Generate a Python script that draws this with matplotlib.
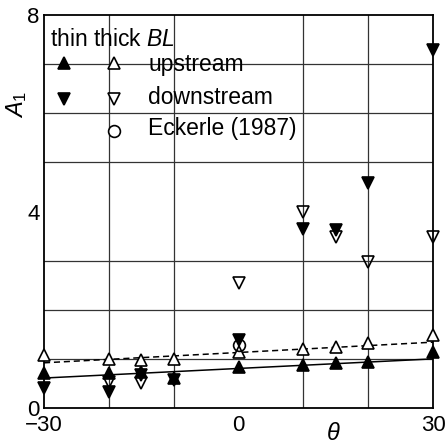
import matplotlib
matplotlib.use("Agg")
import matplotlib.pyplot as plt
import numpy as np

plt.rcParams['font.family'] = ['Liberation Sans', 'DejaVu Sans']
plt.rcParams['mathtext.fontset'] = 'custom'
plt.rcParams['mathtext.it'] = 'Liberation Sans:italic'
plt.rcParams['mathtext.rm'] = 'Liberation Sans'

# Angle of attack (deg) and first harmonic amplitude A1
theta_up_thin = [-30, -20, -15, -10, 0, 10, 15, 20, 30]
a1_up_thin = [0.71, 0.71, 0.73, 0.62, 0.84, 0.88, 0.92, 0.94, 1.14]

theta_up_thick = [-30, -20, -15, -10, 0, 10, 15, 20, 30]
a1_up_thick = [1.08, 1.00, 0.98, 1.00, 1.14, 1.20, 1.24, 1.32, 1.49]

theta_dn_thin = [-30, -20, -15, -10, 0, 10, 15, 20, 30]
a1_dn_thin = [0.41, 0.33, 0.67, 0.57, 1.38, 3.65, 3.62, 4.58, 7.29]

theta_dn_thick = [-20, -15, 0, 10, 15, 20, 30]
a1_dn_thick = [0.53, 0.51, 2.54, 3.99, 3.48, 2.97, 3.48]

theta_eckerle = [0]
a1_eckerle = [1.28]

# Linear trends of the upstream amplitudes (end points)
fit_theta = [-30, 30]
fit_thin = [0.61, 1.00]
fit_thick = [0.92, 1.34]

fig = plt.figure(figsize=(4.48, 4.46), dpi=100)
ax = fig.add_axes([44 / 448, 1 - 408 / 446, 389 / 448, 393 / 446])

ax.set_xlim(-30, 30)
ax.set_ylim(0, 8)
ax.set_xticks([-30, 0, 30])
ax.set_xticklabels(['\u221230', '0', '30'])
ax.set_yticks([0, 4, 8])
ax.set_xticks(np.arange(-30, 31, 10), minor=True)
ax.set_yticks(np.arange(0, 9, 1), minor=True)
ax.grid(True, which='minor', color='#333333', linewidth=0.9)
ax.tick_params(which='both', length=0, labelsize=16)
ax.tick_params(axis='x', pad=5)
ax.tick_params(axis='y', pad=3)
for s in ax.spines.values():
    s.set_linewidth(1.3)
ax.set_axisbelow(True)

ax.plot(fit_theta, fit_thin, color='black', lw=1.1, ls='-', zorder=2)
ax.plot(fit_theta, fit_thick, color='black', lw=1.1, ls=(0, (4, 2.5)), zorder=2)

ms = 8.5
kw = dict(ls='none', ms=ms, mew=1.2, clip_on=False, zorder=3)
ax.plot(theta_up_thin, a1_up_thin, marker='^', color='black', **kw)
ax.plot(theta_up_thick, a1_up_thick, marker='^', mfc='white', mec='black', **kw)
ax.plot(theta_dn_thin, a1_dn_thin, marker='v', color='black', **kw)
ax.plot(theta_dn_thick, a1_dn_thick, marker='v', mfc='none', mec='black', **kw)
ax.plot(theta_eckerle, a1_eckerle, marker='o', mfc='none', mec='black', **kw)

# Axis titles
fig.text(333 / 448, 1 - 434 / 446, r'$\theta$', fontsize=17, ha='center', va='center')
fig.text(17 / 448, 1 - 104 / 446, r'$A_1$', fontsize=17, ha='center', va='center',
         rotation=90)

# Key
def axpt(px, py):
    return ((px - 44) / 389, (408 - py) / 393)

tr = ax.transAxes
fs_key = 16.5
ax.text(*axpt(50, 39), 'thin thick $BL$', transform=tr, fontsize=fs_key, va='center', ha='left')
lkw = dict(ls='none', ms=ms, mew=1.2, clip_on=False, transform=tr, zorder=4)
ax.plot(*axpt(64, 63), marker='^', color='black', **lkw)
ax.plot(*axpt(114, 63), marker='^', mfc='white', mec='black', **lkw)
ax.text(*axpt(148, 64), 'upstream', transform=tr, fontsize=fs_key, va='center', ha='left')
ax.plot(*axpt(64, 99), marker='v', color='black', **lkw)
ax.plot(*axpt(114, 99), marker='v', mfc='white', mec='black', **lkw)
ax.text(*axpt(148, 97), 'downstream', transform=tr, fontsize=fs_key, va='center', ha='left')
ax.plot(*axpt(114, 131), marker='o', mfc='white', mec='black', **lkw)
ax.text(*axpt(148, 128), 'Eckerle (1987)', transform=tr, fontsize=fs_key, va='center', ha='left')

fig.savefig('out.png', dpi=100)
